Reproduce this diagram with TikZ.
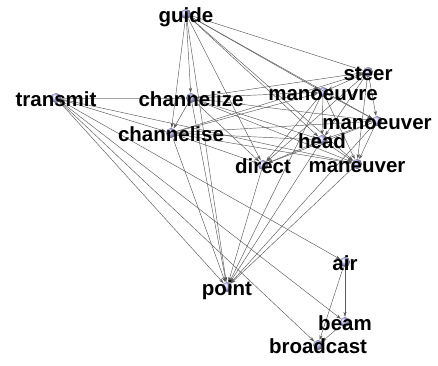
\documentclass[tikz,border=0pt]{standalone}
\usepackage{fontspec}
\setmainfont{Liberation Sans}
\usetikzlibrary{arrows.meta,shadings}

\begin{document}
\begin{tikzpicture}[
  x=1pt,y=-1pt,
  dot/.style={circle,inner sep=0pt,minimum size=10pt,ball color=blue!22!white},
  lbl/.style={anchor=base,yshift=-8pt,inner sep=0pt,
              font=\fontsize{20.5}{20.5}\selectfont\bfseries},
  ar/.style={-{Stealth[length=5pt,width=3.2pt]},line width=0.45pt,draw=black!65}]

\useasboundingbox (0,0) rectangle (438,365);

\node[dot] (guide) at (186,14) {};
\node[dot] (transmit) at (56,98) {};
\node[dot] (channelize) at (191,98) {};
\node[dot] (channelise) at (171,133) {};
\node[dot] (steer) at (368,72) {};
\node[dot] (manoeuvre) at (323,92) {};
\node[dot] (manoeuver) at (377,121) {};
\node[dot] (head) at (322,140) {};
\node[dot] (direct) at (263,165) {};
\node[dot] (maneuver) at (357,164) {};
\node[dot] (air) at (345,262) {};
\node[dot] (point) at (227,287) {};
\node[dot] (beam) at (345,322) {};
\node[dot] (broadcast) at (318,345) {};

% edges
\foreach \t in {channelize,channelise,point,direct,head,maneuver,manoeuvre,steer,manoeuver}
  \draw[ar] (guide) -- (\t);
\draw[ar,draw=black!35] (transmit) -- (channelize);
\foreach \t in {channelise,maneuver,air,beam,broadcast,point}
  \draw[ar] (transmit) -- (\t);
\foreach \t in {channelise,manoeuvre,steer,head,manoeuver,maneuver,direct,point}
  \draw[ar] (channelize) -- (\t);
\foreach \t in {steer,manoeuvre,head,manoeuver,maneuver,direct,point}
  \draw[ar] (channelise) -- (\t);
\foreach \t in {manoeuvre,manoeuver,maneuver,head,direct}
  \draw[ar] (steer) -- (\t);
\foreach \t in {head,direct,maneuver,manoeuver,point}
  \draw[ar] (manoeuvre) -- (\t);
\foreach \t in {maneuver,head,direct,point}
  \draw[ar] (manoeuver) -- (\t);
\foreach \t in {direct,maneuver,point}
  \draw[ar] (head) -- (\t);
\draw[ar] (direct) -- (point);
\draw[ar] (maneuver) -- (point);
\draw[ar] (air) -- (beam);
\draw[ar] (air) -- (broadcast);
\draw[ar] (beam) -- (broadcast);

% labels
\foreach \n in {guide,transmit,channelize,channelise,steer,manoeuvre,manoeuver,
                head,direct,maneuver,air,point,beam,broadcast}
  \node[lbl] (\n-t) at (\n) {\n};
\end{tikzpicture}
\end{document}
